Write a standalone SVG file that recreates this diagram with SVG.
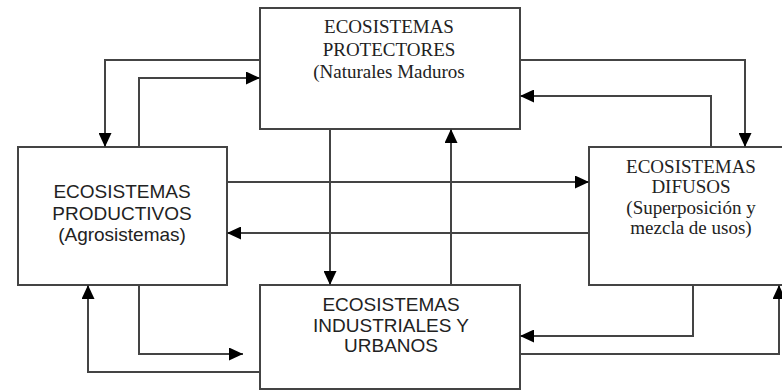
<svg xmlns="http://www.w3.org/2000/svg" width="782" height="392" viewBox="0 0 782 392">
<style>
.box{fill:#fff;stroke:#444;stroke-width:2}
.con{fill:none;stroke:#444;stroke-width:2;marker-end:url(#ah)}
.serif{font-family:"Liberation Serif","Times New Roman",serif;font-size:19px;fill:#222;text-anchor:middle}
.sans{font-family:"Liberation Sans",Arial,sans-serif;font-size:19px;fill:#222;text-anchor:middle}
</style>
<defs>
<marker id="ah" markerUnits="userSpaceOnUse" markerWidth="14" markerHeight="13" refX="14" refY="6.5" orient="auto">
<path d="M0,0 L14,6.5 L0,13 z" fill="#000"/>
</marker>
</defs>
<rect width="782" height="392" fill="#fff"/>
<g id="protectores">
<rect class="box" x="260" y="8" width="260" height="121"/>
<text class="serif" x="389" y="33">ECOSISTEMAS</text>
<text class="serif" x="389" y="56">PROTECTORES</text>
<text class="serif" x="389" y="78">(Naturales Maduros</text>
</g>
<g id="productivos">
<rect class="box" x="18" y="147" width="209" height="138"/>
<text class="sans" x="122" y="198">ECOSISTEMAS</text>
<text class="sans" x="122" y="220">PRODUCTIVOS</text>
<text class="sans" x="122" y="241">(Agrosistemas)</text>
</g>
<g id="difusos">
<rect class="box" x="589" y="147" width="210" height="138"/>
<text class="serif" x="691" y="173">ECOSISTEMAS</text>
<text class="serif" x="691" y="193">DIFUSOS</text>
<text class="serif" x="691" y="214">(Superposición y</text>
<text class="serif" x="691" y="234">mezcla de usos)</text>
</g>
<g id="industriales">
<rect class="box" x="260" y="285" width="260" height="104"/>
<text class="sans" x="391" y="311">ECOSISTEMAS</text>
<text class="sans" x="391" y="332">INDUSTRIALES Y</text>
<text class="sans" x="391" y="352">URBANOS</text>
</g>
<g id="connectors">
<path class="con" d="M260,60 H105 V147"/>
<path class="con" d="M139,147 V78 H260"/>
<path class="con" d="M520,60 H745 V147"/>
<path class="con" d="M711,147 V96 H520"/>
<path class="con" d="M227,182 H589"/>
<path class="con" d="M589,233 H227"/>
<path class="con" d="M330,129 V285"/>
<path class="con" d="M451,285 V129"/>
<path class="con" d="M139,285 V354 H243"/>
<path class="con" d="M260,372 H88 V285"/>
<path class="con" d="M693,285 V336 H520"/>
<path class="con" d="M520,354 H779 V285"/>
</g>
</svg>
